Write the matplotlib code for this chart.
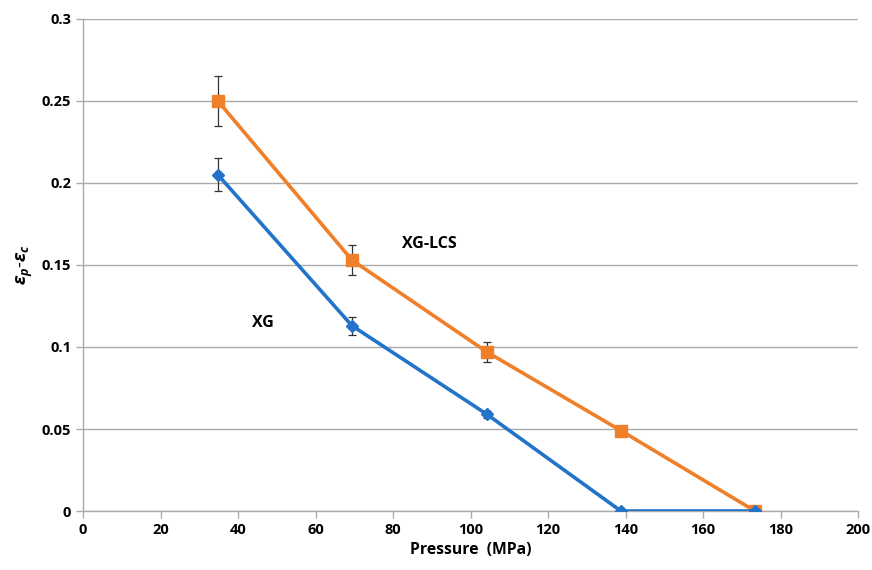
import matplotlib
matplotlib.use("Agg")
import matplotlib.pyplot as plt

plt.rcParams['font.family'] = ['Open Sans', 'DejaVu Sans']
plt.rcParams['mathtext.fontset'] = 'custom'
plt.rcParams['mathtext.it'] = 'Open Sans:italic:bold'
plt.rcParams['mathtext.rm'] = 'Open Sans:bold'

pressure = [34.8, 69.4, 104.2, 138.8, 173.4]
xg = [0.205, 0.113, 0.059, 0.0, 0.0]
xg_err = [0.010, 0.0055, 0.002, 0.0, 0.0]
xglcs = [0.250, 0.153, 0.097, 0.049, 0.0]
xglcs_err = [0.015, 0.009, 0.006, 0.0, 0.0]

fig = plt.figure(figsize=(8.72, 5.70), dpi=100)
ax = fig.add_axes([0.0952, 0.1035, 0.8888, 0.8632])

ax.errorbar(pressure, xglcs, yerr=xglcs_err, color='#F07F2A', lw=2.6,
            marker='s', ms=9, ecolor='#333333', elinewidth=0.9, capsize=3, capthick=0.9, zorder=3)
ax.errorbar(pressure, xg, yerr=xg_err, color='#2374C8', lw=2.6,
            marker='D', ms=6, ecolor='#333333', elinewidth=0.9, capsize=3, capthick=0.9, zorder=3)

ax.text(89.5, 0.163, 'XG-LCS', fontsize=11.5, fontweight='bold', ha='center', va='center')
ax.text(46.5, 0.1146, 'XG', fontsize=11.5, fontweight='bold', ha='center', va='center')

ax.set_xlim(0, 200)
ax.set_ylim(0, 0.3)
ax.set_xticks(range(0, 201, 20))
ax.set_yticks([0, 0.05, 0.1, 0.15, 0.2, 0.25, 0.3])
ax.set_yticklabels(['0', '0.05', '0.1', '0.15', '0.2', '0.25', '0.3'])
ax.yaxis.grid(True, color='#ABABAB', lw=1)
ax.set_axisbelow(True)
for s in ['top', 'right']:
    ax.spines[s].set_visible(False)
for s in ['left', 'bottom']:
    ax.spines[s].set_color('#ABABAB')
    ax.spines[s].set_linewidth(1)
ax.tick_params(axis='both', colors='#ABABAB', labelcolor='black', labelsize=10.5, length=5, width=1)
for lab in ax.get_xticklabels() + ax.get_yticklabels():
    lab.set_fontweight('bold')

ax.set_xlabel('Pressure  (MPa)', fontsize=11.3, fontweight='bold', labelpad=4)
ax.set_ylabel(r'$\varepsilon_p$-$\varepsilon_c$', fontsize=13, labelpad=5)

fig.savefig('out.png', dpi=100)
